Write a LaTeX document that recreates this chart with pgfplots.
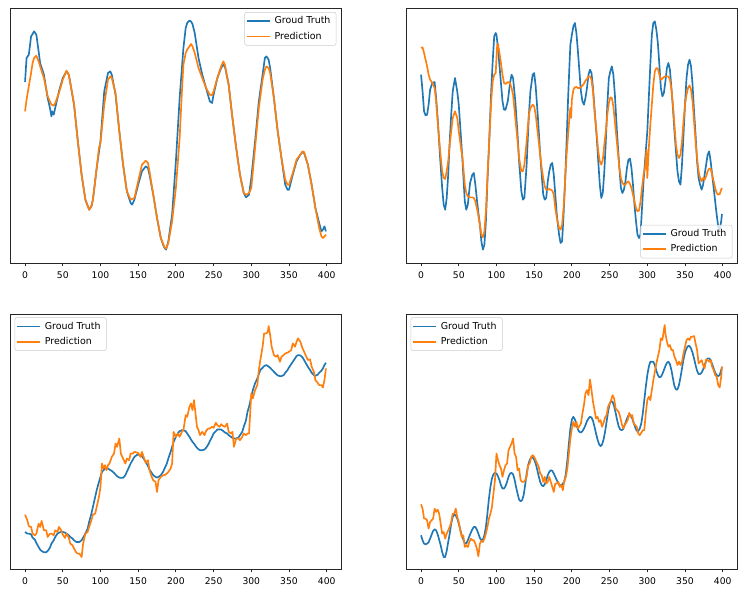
\documentclass[border=0pt]{standalone}
\usepackage{fontspec}
\setmainfont{DejaVu Sans}
\usepackage{pgfplots}
\pgfplotsset{compat=1.18}
\definecolor{tabblue}{HTML}{1F77B4}
\definecolor{taborange}{HTML}{FF7F0E}
\pgfplotsset{
  panel/.style={
    scale only axis, width=248.25pt, height=191.25pt,
    xmin=-19.95, xmax=418.95, y dir=reverse,
    xtick={0,50,...,400}, ytick=\empty,
    xtick pos=lower, tick align=outside, major tick length=2.6pt,
    axis line style={line width=0.6pt, draw=black!85},
    every tick/.style={line width=0.6pt, black!85},
    every tick label/.append style={font=\fontsize{6.9}{8}\selectfont},
    /pgf/number format/assume math mode=true,
    legend style={font=\fontsize{7.1}{8.6}\selectfont, draw=black!20, rounded corners=1.5pt,
      fill=white, fill opacity=0.8, draw opacity=1, text opacity=1, inner sep=1.2pt, row sep=0.6pt,
      cells={anchor=west}, nodes={inner xsep=3pt}},
    legend image code/.code={\draw[##1] (0pt,0pt) -- (17pt,0pt);},
  },
  gt/.style={draw=tabblue, line width=1.25pt, line join=round},
  pr/.style={draw=taborange, line width=1.25pt, line join=round},
  ne/.style={legend style={at={(1,1)}, anchor=north east, xshift=-3.5pt, yshift=-3pt}},
  se/.style={legend style={at={(1,0)}, anchor=south east, xshift=-3.5pt, yshift=3.5pt}},
  nw/.style={legend style={at={(0,1)}, anchor=north west, xshift=3.5pt, yshift=-2.5pt}},
}
\begin{document}
\begin{tikzpicture}
\path[use as bounding box] (0,0) rectangle (561pt,-447pt);
% ---------------- panel 1 ----------------
\begin{axis}[panel, ne, at={(7.5pt,-6pt)}, anchor=north west, ymin=0, ymax=765]
\addplot[gt] coordinates {(0,222)(2,150)(5,140)(8,85)(10,78)(12,70)(15,80)(18,130)(20,165)(25,200)(30,270)(33,300)(35,325)(36,310)(38,320)(40,300)(45,250)(50,210)(55,190)(58,200)(60,225)(65,290)(70,400)(75,500)(80,575)(85,605)(88,595)(90,575)(95,480)(100,400)(105,250)(110,195)(113,190)(115,200)(120,260)(125,370)(130,470)(135,550)(140,585)(142,590)(145,575)(150,530)(155,490)(160,475)(163,480)(165,500)(170,560)(175,630)(180,690)(183,710)(185,720)(187,725)(190,700)(195,620)(200,460)(205,270)(210,120)(213,60)(215,45)(218,38)(220,40)(222,48)(225,75)(230,150)(235,200)(240,240)(245,280)(248,285)(250,260)(255,210)(260,180)(263,170)(265,175)(270,230)(275,330)(280,420)(285,500)(290,555)(293,568)(297,560)(300,510)(305,400)(310,280)(315,200)(318,150)(320,145)(323,155)(325,180)(330,270)(335,370)(340,450)(345,530)(348,545)(350,545)(355,500)(360,460)(365,440)(368,432)(370,435)(375,470)(380,530)(385,600)(390,645)(393,670)(395,665)(397,655)(399,670)};
\addlegendentry{Groud Truth}
\addplot[pr] coordinates {(0,310)(2,275)(5,235)(8,195)(10,165)(12,150)(15,143)(18,160)(20,175)(25,210)(30,265)(35,290)(38,293)(40,285)(45,255)(50,215)(55,188)(58,200)(60,225)(65,290)(70,400)(75,500)(80,575)(85,605)(88,595)(90,575)(95,480)(98,420)(100,405)(102,360)(105,290)(110,215)(113,205)(115,210)(120,255)(125,370)(130,470)(135,550)(140,575)(145,570)(150,520)(155,470)(160,458)(163,465)(165,490)(170,560)(175,630)(180,690)(185,718)(187,722)(190,705)(195,640)(200,540)(205,390)(208,250)(210,170)(213,135)(215,125)(218,115)(220,108)(222,115)(225,135)(230,180)(235,210)(240,240)(245,260)(248,262)(250,250)(255,210)(260,175)(263,160)(265,170)(270,230)(275,330)(280,420)(285,500)(290,555)(293,560)(297,555)(300,540)(305,420)(310,300)(315,215)(318,185)(320,175)(323,180)(325,195)(330,270)(335,370)(340,450)(345,515)(348,530)(350,530)(355,495)(360,455)(365,440)(368,430)(370,432)(375,470)(380,530)(385,600)(390,660)(393,685)(395,690)(397,685)(399,680)};
\addlegendentry{Prediction}
\end{axis}
% ---------------- panel 2 ----------------
\begin{axis}[panel, se, at={(304.5pt,-6pt)}, anchor=north west, ymin=0, ymax=765]
\addplot[gt] coordinates {(0,200)(2,250)(4,310)(6,322)(8,320)(10,290)(12,245)(15,225)(18,222)(20,270)(22,330)(25,440)(28,540)(30,590)(32,605)(34,570)(36,500)(38,400)(40,320)(42,250)(45,210)(48,250)(50,290)(53,390)(55,460)(58,580)(60,605)(62,590)(65,525)(68,500)(70,495)(72,530)(75,595)(78,650)(80,700)(82,725)(84,710)(86,640)(88,520)(90,420)(93,250)(95,160)(97,85)(99,75)(100,80)(102,120)(105,200)(108,280)(110,305)(112,305)(115,280)(118,225)(120,200)(122,210)(125,280)(128,380)(130,460)(133,550)(135,575)(137,570)(140,470)(143,320)(145,250)(148,200)(150,195)(152,235)(155,330)(158,440)(160,500)(162,560)(164,575)(166,570)(168,520)(170,490)(172,470)(174,465)(176,500)(178,560)(180,620)(183,680)(185,705)(187,700)(189,620)(191,520)(193,400)(195,270)(197,160)(198,110)(200,80)(202,55)(204,45)(206,75)(208,130)(210,190)(212,250)(214,280)(216,290)(218,270)(220,240)(222,200)(224,185)(226,195)(228,240)(230,300)(233,390)(235,460)(237,530)(239,570)(241,555)(243,490)(245,400)(247,290)(249,210)(251,190)(253,175)(255,200)(257,260)(260,380)(263,480)(265,540)(267,555)(269,545)(271,520)(273,480)(275,455)(277,452)(279,480)(281,530)(283,590)(285,640)(287,680)(289,690)(291,680)(293,600)(295,520)(297,460)(299,400)(300,370)(302,270)(304,170)(306,80)(308,45)(310,40)(312,65)(314,105)(316,170)(318,240)(320,265)(322,255)(324,220)(326,180)(328,165)(330,185)(332,240)(334,300)(336,370)(338,430)(340,490)(342,520)(344,530)(346,470)(348,380)(350,290)(352,210)(354,170)(356,155)(358,175)(360,230)(362,310)(364,380)(366,460)(368,510)(370,530)(372,545)(374,530)(376,500)(378,470)(380,440)(382,430)(384,460)(386,500)(388,540)(390,580)(392,620)(394,655)(396,665)(398,640)(399,618)};
\addlegendentry{Groud Truth}
\addplot[pr] coordinates {(0,120)(2,118)(4,135)(6,155)(8,175)(10,200)(12,215)(15,225)(18,240)(20,280)(22,340)(25,420)(28,490)(30,510)(32,513)(34,490)(36,460)(38,410)(40,370)(42,330)(45,310)(48,330)(50,370)(53,420)(55,450)(58,530)(60,555)(62,565)(65,568)(68,568)(70,570)(72,580)(75,610)(78,650)(80,680)(82,688)(84,670)(86,610)(88,510)(90,420)(93,280)(95,220)(97,200)(99,195)(100,150)(101,110)(102,108)(105,150)(108,200)(110,225)(112,228)(115,222)(118,225)(120,240)(122,260)(125,330)(128,400)(130,450)(133,490)(135,490)(137,470)(140,400)(143,320)(145,300)(148,290)(150,295)(152,320)(155,380)(158,440)(160,480)(162,510)(164,535)(166,545)(168,545)(170,543)(172,545)(174,548)(176,560)(178,600)(180,630)(183,660)(185,665)(187,650)(189,600)(191,520)(193,440)(195,380)(197,320)(198,300)(199,330)(200,275)(202,245)(204,238)(206,237)(208,240)(210,240)(212,237)(214,233)(216,227)(218,218)(220,213)(222,205)(224,205)(226,215)(228,250)(230,310)(233,380)(235,430)(237,460)(239,470)(241,455)(243,410)(245,370)(247,320)(249,285)(251,268)(253,270)(255,295)(257,340)(260,410)(263,480)(265,510)(267,525)(269,530)(271,530)(273,523)(275,520)(277,528)(279,540)(281,560)(283,580)(285,600)(287,610)(289,608)(291,580)(293,540)(295,500)(297,480)(299,425)(300,510)(302,420)(304,350)(306,290)(308,230)(310,190)(312,180)(314,182)(316,200)(318,215)(320,212)(322,207)(324,205)(326,205)(328,205)(330,215)(332,245)(334,290)(336,350)(338,410)(340,440)(342,450)(344,440)(346,400)(348,340)(350,290)(352,260)(354,240)(356,232)(358,245)(360,280)(362,340)(364,400)(366,450)(368,490)(370,510)(372,520)(374,510)(376,515)(378,505)(380,490)(382,482)(384,482)(386,500)(388,520)(390,540)(392,555)(394,560)(396,558)(398,545)(399,540)};
\addlegendentry{Prediction}
\end{axis}
% ---------------- panel 3 ----------------
\begin{axis}[panel, nw, at={(7.5pt,-235.5pt)}, anchor=north west, ymin=42, ymax=806]
\addplot[gt] coordinates {(0,695)(3,700)(5,700)(8,702)(10,712)(13,718)(15,728)(18,740)(20,748)(22,752)(25,756)(28,756)(30,752)(33,742)(35,730)(38,720)(40,710)(43,700)(45,697)(48,695)(50,695)(53,697)(55,700)(58,705)(60,710)(63,715)(65,720)(68,725)(70,725)(72,725)(75,720)(77,712)(80,700)(83,685)(85,665)(88,640)(90,620)(93,590)(95,570)(98,545)(100,530)(102,515)(104,510)(106,505)(108,505)(110,505)(112,508)(115,512)(118,518)(120,523)(122,528)(125,532)(127,533)(130,533)(133,525)(135,515)(138,500)(140,490)(143,478)(145,470)(148,465)(150,463)(153,465)(155,468)(158,478)(160,485)(163,497)(165,508)(168,518)(170,525)(173,530)(175,532)(177,530)(180,525)(183,515)(185,505)(188,490)(190,475)(193,455)(195,440)(197,425)(200,410)(203,398)(205,393)(208,390)(210,390)(213,393)(215,400)(218,410)(220,418)(222,425)(224,430)(226,437)(228,443)(230,447)(232,450)(235,450)(238,448)(240,443)(243,433)(245,423)(248,410)(250,400)(253,393)(255,388)(258,388)(260,388)(263,393)(265,397)(268,400)(270,405)(273,410)(275,413)(277,415)(280,415)(283,412)(285,405)(288,395)(290,380)(293,360)(295,335)(297,320)(299,300)(300,290)(302,270)(305,250)(308,235)(310,222)(312,210)(315,203)(317,198)(320,195)(322,198)(325,203)(327,208)(330,215)(333,222)(335,226)(338,228)(340,228)(343,225)(345,218)(348,210)(350,202)(353,192)(355,185)(358,175)(360,168)(362,165)(365,166)(368,172)(370,180)(373,192)(375,200)(378,210)(380,218)(383,225)(385,227)(388,224)(390,218)(393,212)(395,205)(397,195)(399,188)};
\addlegendentry{Groud Truth}
\addplot[pr] coordinates {(0,643)(3,660)(5,678)(8,680)(10,700)(13,705)(15,700)(18,670)(20,680)(22,662)(25,690)(28,690)(30,710)(33,700)(35,700)(38,705)(40,690)(43,695)(45,680)(48,690)(50,703)(53,713)(55,700)(58,712)(60,730)(63,735)(65,745)(68,757)(70,760)(72,760)(75,770)(77,730)(80,700)(83,695)(85,680)(88,660)(90,643)(93,640)(95,620)(98,590)(100,560)(102,490)(104,505)(106,495)(108,510)(110,495)(112,490)(115,470)(118,460)(120,430)(122,440)(125,415)(127,460)(130,475)(133,490)(135,475)(138,480)(140,460)(143,460)(145,455)(148,457)(150,458)(153,470)(155,455)(158,475)(160,488)(163,480)(165,510)(168,530)(170,540)(173,545)(175,575)(177,540)(180,530)(183,525)(185,525)(188,520)(190,515)(193,505)(195,490)(197,395)(200,410)(203,400)(205,410)(208,395)(210,390)(213,345)(215,350)(218,320)(220,310)(222,330)(224,300)(226,340)(228,380)(230,390)(232,405)(235,395)(238,405)(240,392)(243,385)(245,385)(248,380)(250,383)(253,368)(255,375)(258,380)(260,372)(263,378)(265,380)(268,370)(270,395)(273,400)(275,395)(277,440)(280,415)(283,415)(285,420)(288,410)(290,400)(293,405)(295,400)(297,400)(299,320)(300,280)(302,295)(305,270)(308,255)(310,210)(312,180)(315,140)(317,100)(320,100)(322,95)(323,78)(325,105)(327,140)(330,165)(333,170)(335,165)(338,185)(340,170)(343,165)(345,160)(348,158)(350,155)(353,150)(355,130)(358,140)(360,125)(362,115)(365,125)(368,145)(370,155)(373,170)(375,180)(378,178)(380,200)(383,215)(385,240)(388,248)(390,255)(393,255)(395,262)(397,240)(399,205)};
\addlegendentry{Prediction}
\end{axis}
% ---------------- panel 4 ----------------
\begin{axis}[panel, nw, at={(304.5pt,-235.5pt)}, anchor=north west, ymin=42, ymax=806]
\addplot[gt] coordinates {(0,705)(2,720)(4,730)(6,732)(8,730)(10,726)(12,715)(14,703)(16,692)(18,687)(20,690)(22,702)(24,718)(26,735)(28,755)(30,770)(32,770)(34,752)(36,725)(38,700)(40,670)(42,650)(44,643)(46,645)(48,655)(50,670)(52,688)(54,705)(56,718)(58,728)(60,730)(62,720)(64,708)(66,697)(68,687)(70,680)(72,680)(74,688)(76,700)(78,713)(80,720)(82,718)(84,705)(86,680)(88,640)(90,595)(92,560)(94,535)(96,522)(98,518)(100,520)(102,528)(104,540)(106,555)(108,565)(110,565)(112,558)(114,545)(116,530)(118,520)(120,518)(122,522)(124,538)(126,560)(128,580)(130,598)(132,603)(134,600)(136,585)(138,555)(140,520)(142,495)(144,480)(146,472)(148,472)(150,478)(152,490)(154,508)(156,528)(158,545)(160,555)(162,558)(164,552)(166,540)(168,525)(170,515)(172,510)(174,512)(176,520)(178,530)(180,540)(182,550)(184,555)(186,555)(188,550)(190,545)(192,520)(194,480)(196,430)(198,385)(200,358)(202,350)(204,358)(206,372)(208,388)(210,395)(212,397)(214,393)(216,385)(218,375)(220,363)(222,355)(224,350)(226,352)(228,362)(230,380)(232,400)(234,418)(236,432)(238,438)(240,433)(242,418)(244,395)(246,365)(248,335)(250,312)(252,303)(254,305)(256,318)(258,338)(260,360)(262,378)(264,388)(266,390)(268,387)(270,375)(272,362)(274,350)(276,343)(278,345)(280,355)(282,368)(284,382)(286,392)(288,393)(290,385)(292,370)(294,340)(296,300)(298,260)(300,225)(302,200)(304,185)(306,185)(308,185)(310,195)(312,212)(314,225)(316,232)(318,230)(320,222)(322,210)(324,198)(326,188)(328,185)(330,192)(332,210)(334,235)(336,258)(338,268)(340,268)(342,255)(344,232)(346,205)(348,178)(350,158)(352,145)(354,138)(356,138)(358,145)(360,158)(362,175)(364,195)(366,212)(368,222)(370,222)(372,218)(374,208)(376,195)(378,183)(380,175)(382,175)(384,180)(386,192)(388,205)(390,218)(392,225)(394,228)(396,225)(398,210)(399,200)};
\addlegendentry{Groud Truth}
\addplot[pr] coordinates {(0,612)(2,625)(4,655)(6,655)(8,660)(10,685)(12,665)(14,660)(16,655)(18,625)(20,635)(22,628)(24,640)(26,670)(28,700)(30,695)(32,715)(34,700)(36,690)(38,680)(40,665)(42,640)(44,640)(46,625)(48,650)(50,665)(52,690)(54,710)(56,705)(58,740)(60,735)(62,740)(64,725)(66,715)(68,720)(70,720)(72,730)(74,745)(76,768)(78,730)(80,722)(82,725)(84,715)(86,700)(88,680)(90,655)(92,640)(94,620)(96,580)(98,540)(100,460)(102,480)(104,495)(106,505)(108,530)(110,510)(112,495)(114,490)(116,450)(118,440)(120,430)(122,415)(124,460)(126,470)(128,510)(130,505)(132,540)(134,545)(136,545)(138,540)(140,530)(142,495)(144,490)(146,470)(148,465)(150,470)(152,480)(154,490)(156,500)(158,520)(160,525)(162,545)(164,530)(166,550)(168,545)(170,530)(172,545)(174,560)(176,575)(178,550)(180,550)(182,545)(184,560)(186,555)(188,570)(190,540)(192,530)(194,505)(196,460)(198,415)(200,385)(202,365)(204,380)(206,365)(208,385)(210,378)(212,370)(214,340)(216,315)(218,280)(220,270)(222,285)(224,238)(226,270)(228,305)(230,330)(232,355)(234,350)(236,365)(238,360)(240,380)(242,368)(244,352)(246,345)(248,320)(250,310)(252,300)(254,285)(256,295)(258,325)(260,330)(262,335)(264,350)(266,370)(268,385)(270,375)(272,368)(274,360)(276,338)(278,350)(280,345)(282,370)(284,375)(286,380)(288,400)(290,405)(292,398)(294,390)(296,390)(298,340)(300,300)(302,290)(304,300)(306,270)(308,240)(310,215)(312,190)(314,170)(316,150)(318,115)(320,120)(322,90)(323,75)(324,100)(326,125)(328,140)(330,135)(332,150)(334,150)(336,170)(338,180)(340,195)(342,185)(344,195)(346,185)(348,160)(350,140)(352,120)(354,115)(356,120)(358,110)(360,110)(362,108)(364,130)(366,150)(368,190)(370,185)(372,180)(374,195)(376,205)(378,178)(380,180)(382,185)(384,180)(386,200)(388,210)(390,225)(392,230)(394,255)(396,262)(398,230)(399,200)};
\addlegendentry{Prediction}
\end{axis}
\end{tikzpicture}
\end{document}
